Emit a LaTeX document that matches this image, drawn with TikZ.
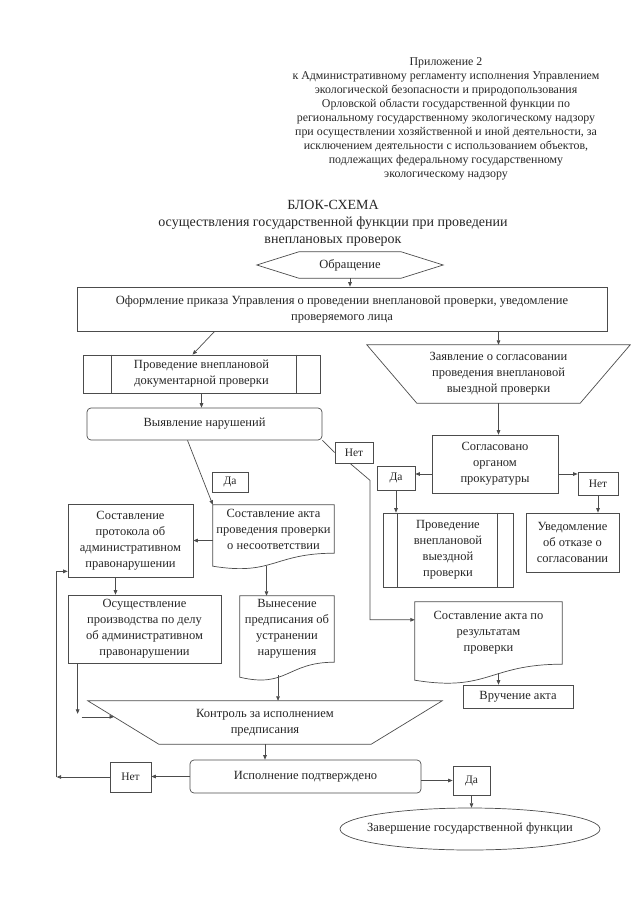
\documentclass[tikz,border=0pt]{standalone}
\usepackage{fontspec}
\setmainfont{Liberation Serif}
\usetikzlibrary{arrows.meta,calc}

\newcommand{\boxfnt}{\fontsize{12.5}{16}\selectfont}
\newcommand{\lblfnt}{\fontsize{11.5}{13}\selectfont}
\newcommand{\hdrfnt}{\fontsize{11.9}{14}\selectfont}
\newcommand{\ttlfnt}{\fontsize{14}{17}\selectfont}

\tikzset{
  ln/.style={draw=black!70, line width=0.7pt},
  arr/.style={ln, -{Triangle[length=4.5pt,width=3.6pt]}},
  box/.style={ln, rectangle, align=center, inner sep=1pt, font=\boxfnt, text=black!85},
  rbox/.style={box, rounded corners=4pt},
  lbl/.style={box, font=\lblfnt},
  shp/.style={rectangle, align=center, inner sep=0pt, font=\boxfnt, text=black!85},
  hdr/.style={align=center, inner sep=0pt, font=\hdrfnt, text=black!85},
  ttl/.style={align=center, inner sep=0pt, font=\ttlfnt, text=black!85},
}

% document outline, left end lower by #2
\newcommand{\docout}[2]{%
  \draw[ln] (#1.north west) -- (#1.north east) -- (#1.south east)
    .. controls (#1.south) and ($(#1.south)+(0,1.75*#2)$) .. ($(#1.south west)+(0,#2)$) -- cycle;}
% two inner bars of a process box
\newcommand{\sidebars}[3]{%
  \draw[ln] ($(#1.north west)+(#2,0)$) -- ($(#1.south west)+(#2,0)$);
  \draw[ln] ($(#1.north east)+(-#3,0)$) -- ($(#1.south east)+(-#3,0)$);}
% hexagon
\newcommand{\hexout}[2]{%
  \draw[ln] (#1.west) -- ($(#1.north west)+(#2,0)$) -- ($(#1.north east)+(-#2,0)$) -- (#1.east)
    -- ($(#1.south east)+(-#2,0)$) -- ($(#1.south west)+(#2,0)$) -- cycle;}
% trapezium, wide side on top
\newcommand{\trapout}[2]{%
  \draw[ln] (#1.north west) -- (#1.north east) -- ($(#1.south east)+(-#2,0)$)
    -- ($(#1.south west)+(#2,0)$) -- cycle;}

\begin{document}
\begin{tikzpicture}[x=1pt,y=-1pt]
  \useasboundingbox (0,0) rectangle (640,905);

  \node[hdr] (app) at (446,119) {Приложение 2\\к Административному регламенту исполнения Управлением\\экологической безопасности и природопользования\\Орловской области государственной функции по\\региональному государственному экологическому надзору\\при осуществлении хозяйственной и иной деятельности, за\\исключением деятельности с использованием объектов,\\подлежащих федеральному государственному\\экологическому надзору};
  \node[ttl] (ttl) at (333,223) {БЛОК-СХЕМА\\осуществления государственной функции при проведении\\внеплановых проверок};

  \node[shp, minimum width=186, minimum height=26] (obr) at (350,265) {Обращение};
  \hexout{obr}{42}
  \node[box, minimum width=530, minimum height=44] (prikaz) at (342,309) {Оформление приказа Управления о проведении внеплановой проверки, уведомление\\проверяемого лица};
  \draw[arr] (obr.south) -- (obr.south |- prikaz.north);

  % documentary check
  \node[box, minimum width=237, minimum height=38] (docum) at (201.5,374) {Проведение внеплановой\\документарной проверки};
  \sidebars{docum}{29}{24}
  \draw[arr] ($(prikaz.south west)+(138,0)$) -- ($(docum.north)+(-9,0)$);
  \node[rbox, minimum width=235, minimum height=32] (vyyav) at (204.5,424) {Выявление нарушений};
  \draw[arr] (docum.south) -- (docum.south |- vyyav.north);

  \node[lbl, minimum width=36, minimum height=20] (da1) at (230,482) {Да};
  \node[lbl, minimum width=38, minimum height=21] (net1) at (354,452.5) {Нет};

  \node[shp, minimum width=121, minimum height=48] (akt) at (273.5,529) {Составление акта\\проведения проверки\\о несоответствии};
  \docout{akt}{13}
  \draw[arr] ($(vyyav.south)+(-17,0)$) -- (akt.north west);

  \node[box, minimum width=125, minimum height=73] (prot) at (130.5,540.5) {Составление\\протокола об\\административном\\правонарушении};
  \draw[arr] (akt.west |- prot.east) -- (prot.east);
  \node[box, minimum width=153, minimum height=68] (osush) at (144.5,629) {Осуществление\\производства по делу\\об административном\\правонарушении};
  \coordinate (ps) at ($(prot.south)+(-15,0)$);
  \draw[arr] (ps) -- (ps |- osush.north);

  \node[shp, minimum width=94, minimum height=66] (vynes) at (287,629) {Вынесение\\предписания об\\устранении\\нарушения};
  \docout{vynes}{15}
  \coordinate (ak) at ($(akt.south)+(-7,13)$);
  \draw[arr] (ak) -- (ak |- vynes.north);

  % control
  \node[shp, minimum width=354, minimum height=43] (kontr) at (265,722.5) {Контроль за исполнением\\предписания};
  \trapout{kontr}{71}
  \coordinate (vb) at ($(vynes.south)+(-9,13)$);
  \draw[arr] (vb) -- (vb |- kontr.north);
  \coordinate (os) at ($(osush.south west)+(10,0)$);
  \coordinate (kbl) at ($(kontr.south west)+(71,0)$);
  \coordinate (kt) at ($(kontr.north west)!0.37!(kbl)$);
  \draw[arr, shorten >=3pt] (os) -- (os |- kt);
  \draw[arr] (os |- kt) ++(4,0) -- (kt);

  \node[rbox, minimum width=231, minimum height=33] (ispol) at (305.5,776.5) {Исполнение подтверждено};
  \draw[arr] (kontr.south) -- (kontr.south |- ispol.north);
  \node[lbl, minimum width=41, minimum height=30] (net3) at (130.5,777) {Нет};
  \draw[arr] (ispol.west) -- (ispol.west -| net3.east);
  \coordinate (lp) at ($(net3.west)+(-53,0)$);
  \draw[arr] (net3.west) -- (lp);
  \draw[arr] (lp) |- ($(prot.south west)+(0,-6)$);

  \node[lbl, minimum width=37, minimum height=29] (da3) at (471.5,780.5) {Да};
  \draw[arr] (ispol.east |- da3.west) -- (da3.west);
  \node[shp, minimum width=260, minimum height=42] (zav) at (470,829) {Завершение государственной функции};
  \draw[ln] (zav.center) ellipse [x radius=130, y radius=21];
  \draw[arr] (da3.south) -- (da3.south |- zav.north);

  % field check
  \node[shp, minimum width=263, minimum height=58] (zayav) at (498.5,374) {Заявление о согласовании\\проведения внеплановой\\выездной проверки};
  \trapout{zayav}{50}
  \draw[arr] (prikaz.south -| zayav.north) -- (zayav.north);
  \node[box, minimum width=126, minimum height=58] (sogl) at (495,464) {Согласовано\\органом\\прокуратуры};
  \draw[arr] (zayav.south) -- (zayav.south |- sogl.north);
  \node[lbl, minimum width=38, minimum height=24] (da2) at (396,478) {Да};
  \node[lbl, minimum width=40, minimum height=23] (net2) at (598,483.5) {Нет};
  \coordinate (sw) at ($(sogl.west)+(0,10)$);
  \draw[arr] (sw) -- (sw -| da2.east);
  \coordinate (se) at ($(sogl.east)+(0,10)$);
  \draw[arr] (se) -- (se -| net2.west);
  \node[box, minimum width=130, minimum height=74] (vyezd) at (448,550) {Проведение\\внеплановой\\выездной\\проверки};
  \sidebars{vyezd}{15}{16}
  \draw[arr] (da2.south) -- (da2.south |- vyezd.north);
  \node[box, minimum width=93, minimum height=59] (uved) at (572.5,542.5) {Уведомление\\об отказе о\\согласовании};
  \draw[arr] (net2.south) -- (net2.south |- uved.north);

  \node[shp, minimum width=147, minimum height=62] (rez) at (488.5,633) {Составление акта по\\результатам\\проверки};
  \docout{rez}{16}
  \node[box, minimum width=110, minimum height=23] (vruch) at (518,696.5) {Вручение акта};
  \coordinate (rz) at ($(rez.south)+(10,9)$);
  \draw[arr] (rz) -- (rz |- vruch.north);

  % "no" branch of the documentary check
  \draw[ln] (vyyav.south east) -- (net1.west);
  \draw[arr] ($(net1.south)+(-4,0)$) -- ++(20,17) |- ($(rez.north west)+(0,18)$);
\end{tikzpicture}
\end{document}
